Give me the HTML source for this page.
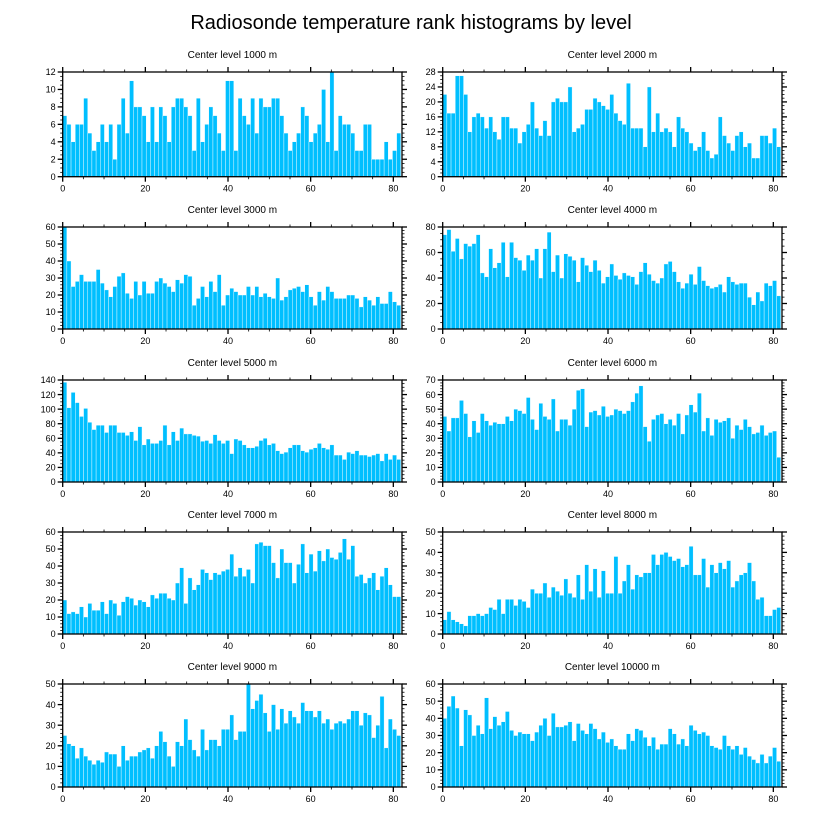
<!DOCTYPE html>
<html><head><meta charset="utf-8">
<style>
html,body{margin:0;padding:0;background:#fff;}
svg{display:block;font-family:"Liberation Sans",Arial,sans-serif;}
</style></head>
<body>
<svg id="chart" width="822" height="824" viewBox="0 0 822 824" xmlns="http://www.w3.org/2000/svg">
<rect width="822" height="824" fill="#fff"/>
<text x="411" y="29" text-anchor="middle" font-size="20">Radiosonde temperature rank histograms by level</text>
</svg>
<script>
const levels = ["1000","2000","3000","4000","5000","6000","7000","8000","9000","10000"];
const yMaxes = [12,28,60,80,140,70,60,50,50,60];
const yMajorSteps = [2,4,10,20,20,10,10,10,10,10];
const xTicks = [0,20,40,60,80];
const v1000 = [7,6,4,6,6,9,5,3,4,6,4,6,2,6,9,5,11,8,8,7,4,8,4,8,7,4,8,9,9,8,7,3,9,4,6,8,7,5,3,11,11,3,9,7,6,9,5,9,8,8,9,9,7,5,3,4,5,8,7,4,5,6,10,4,12,3,7,6,6,5,3,3,6,6,2,2,2,4,2,3,5];
const v2000 = [22,17,17,27,27,22,12,16,17,16,13,16,12,10,16,16,13,13,9,12,14,20,13,11,15,11,20,21,20,20,24,12,13,14,18,18,21,20,19,18,22,17,15,14,25,13,13,13,8,24,12,17,12,13,12,8,16,13,12,9,7,8,12,7,5,6,16,11,9,7,11,12,8,9,5,5,11,11,9,13,8];
const v3000 = [60,40,25,28,32,28,28,28,35,27,23,19,25,31,33,21,18,28,20,28,21,21,28,30,27,25,22,29,27,32,31,14,18,25,19,28,22,32,14,20,24,22,20,20,25,20,25,19,21,19,18,30,17,19,23,24,25,22,26,19,14,22,17,25,22,18,18,18,20,20,18,13,19,17,14,19,15,15,22,16,14];
const v4000 = [74,78,61,71,55,67,65,67,74,44,41,63,48,52,68,41,68,56,54,46,58,54,63,40,63,76,45,58,40,59,57,54,37,56,50,45,54,46,36,41,51,42,39,44,42,41,35,45,52,43,38,36,40,51,53,45,37,32,36,43,35,49,38,34,32,33,35,29,41,37,35,36,36,25,19,29,22,36,34,38,26];
const v5000 = [137,102,123,109,90,101,82,72,78,78,68,78,78,68,68,64,69,57,76,51,59,53,53,57,78,51,69,57,74,66,66,64,63,56,57,53,65,57,53,57,39,59,57,51,47,47,49,57,60,51,53,43,39,41,47,51,51,43,41,45,47,53,47,45,51,37,37,31,41,39,43,37,37,35,37,39,29,39,31,37,31];
const v6000 = [45,35,44,44,56,47,31,42,34,47,42,39,41,40,40,45,42,50,49,47,58,43,36,54,45,43,57,35,43,43,39,50,63,64,38,48,49,46,52,45,46,50,49,47,49,55,61,66,38,28,43,46,47,40,43,39,47,33,46,53,48,61,35,44,32,43,41,42,44,30,39,36,43,38,33,34,39,32,34,35,17];
const v7000 = [20,12,13,12,16,10,18,14,14,19,12,20,18,11,19,22,21,17,20,19,16,23,21,24,24,21,20,30,39,18,33,26,29,38,36,32,36,35,37,38,47,34,39,34,38,30,53,54,52,52,42,33,50,42,42,30,41,53,36,47,37,49,43,50,45,44,48,56,44,52,34,35,30,33,36,26,34,39,29,22,22];
const v8000 = [7,11,7,6,5,4,9,9,10,9,10,13,12,17,10,17,17,14,17,16,13,22,20,20,25,18,23,21,19,27,20,18,29,17,34,21,32,18,31,20,20,38,20,26,34,22,29,28,30,30,39,34,39,40,38,36,37,33,34,43,29,29,37,23,34,30,35,32,36,23,26,29,30,35,26,17,18,9,9,12,13];
const v9000 = [25,21,20,14,19,15,13,11,13,12,17,16,16,10,20,13,15,15,17,18,19,14,20,27,22,15,10,22,20,33,23,18,15,28,18,23,23,20,28,28,35,23,27,27,50,38,42,45,36,27,40,28,38,31,37,34,31,41,37,37,34,37,31,33,28,31,32,31,33,37,37,30,36,35,24,30,44,19,33,28,25];
const v10000 = [40,47,53,46,24,45,42,30,36,31,52,34,41,36,38,44,33,30,32,31,31,27,32,36,40,30,43,35,35,36,38,27,37,33,31,37,34,28,32,26,28,24,22,22,31,27,34,33,29,24,29,22,25,25,34,31,25,28,24,36,33,31,32,30,24,23,22,30,24,22,24,19,23,18,16,14,19,14,18,23,15];
const seriesList = [v1000,v2000,v3000,v4000,v5000,v6000,v7000,v8000,v9000,v10000];

const NS = "http://www.w3.org/2000/svg";
const svg = document.getElementById("chart");
function mk(tag, attrs, parent){
  const e = document.createElementNS(NS, tag);
  for (const k in attrs) e.setAttribute(k, attrs[k]);
  (parent||svg).appendChild(e);
  return e;
}
const colX = [62.7, 442.7];
const plotW = 339.3;
const rowTop = [72, 227, 380, 532, 684];
const rowBot = [176.7, 329, 482, 634, 787];
const X_MAX = 82.1;

for (let p = 0; p < 10; p++) {
  const col = p % 2, row = Math.floor(p / 2);
  const L = colX[col], T = rowTop[row], B = rowBot[row], R = L + plotW;
  const yMax = yMaxes[p], step = yMajorSteps[p];
  const xs = v => L + v / X_MAX * plotW;
  const ys = v => B - v / yMax * (B - T);
  const g = mk("g", {});
  
  
  const t = mk("text", {x: (L + R) / 2, y: T - 14, "text-anchor": "middle", "font-size": "10"}, g);
  
  
  t.textContent = "Center level " + levels[p] + " m";
  const vals = seriesList[p];
  const bw = 1.01;
  vals.forEach((v, i) => {
    const x0 = xs(i * bw), x1 = Math.min(R, xs((i + 1) * bw));
    const r = mk("rect", {x: x0, y: ys(v), width: Math.max(0, x1 - x0), height: B - ys(v), fill: "#00BFFF", stroke: "#ffffff", "stroke-width": "0.4"}, g);
    
    
  });
  const frame = mk("rect", {x: L, y: T, width: plotW, height: B - T, fill: "none", stroke: "#000", "stroke-width": "1.3"}, g);
  
  
  for (let v = 0; v <= 80; v += 5) {
    const major = v % 20 === 0;
    const len = major ? 5 : 2.5;
    const x = xs(v);
    mk("line", {x1: x, x2: x, y1: B, y2: B + len, stroke: "#000", "stroke-width": major ? 1.3 : 0.8}, g);
    mk("line", {x1: x, x2: x, y1: T, y2: T - len, stroke: "#000", "stroke-width": major ? 1.3 : 0.8}, g);
  }
  xTicks.forEach(v => {
    const tl = mk("text", {x: xs(v), y: B + 15, "text-anchor": "middle", "font-size": "9"}, g);
    
    
    tl.textContent = v;
  });
  const minor = step / (step % 4 === 0 || step === 2 ? 4 : 5);
  for (let v = 0; v <= yMax + 1e-9; v += minor) {
    const isMajor = Math.abs(v / step - Math.round(v / step)) < 1e-6;
    const len = isMajor ? 5 : 2.5;
    const y = ys(v);
    mk("line", {x1: L, x2: L - len, y1: y, y2: y, stroke: "#000", "stroke-width": isMajor ? 1.3 : 0.8}, g);
    mk("line", {x1: R, x2: R + len, y1: y, y2: y, stroke: "#000", "stroke-width": isMajor ? 1.3 : 0.8}, g);
  }
  for (let v = 0; v <= yMax + 1e-9; v += step) {
    const tl = mk("text", {x: L - 7, y: ys(v) + 3.2, "text-anchor": "end", "font-size": "9"}, g);
    
    
    tl.textContent = Math.round(v);
  }
}
</script>
</body></html>
